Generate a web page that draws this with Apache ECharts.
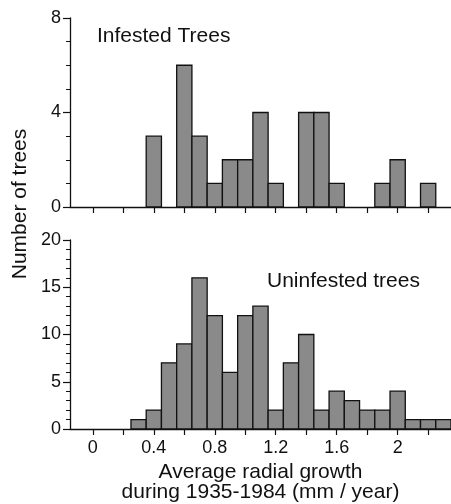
<!DOCTYPE html>
<html>
<head>
<meta charset="utf-8">
<script src="https://cdn.jsdelivr.net/npm/echarts@6/dist/echarts.min.js"></script>
<style>
    html, body { margin: 0; padding: 0; background: #fff; }
    #chart { width: 451px; height: 504px; }
</style>
</head>
<body>
<div id="chart"></div>
<script>
// bin centres (mm / year), each bin is 0.1 wide
let binCenters = [0.3, 0.4, 0.5, 0.6, 0.7, 0.8, 0.9, 1.0, 1.1, 1.2, 1.3, 1.4, 1.5, 1.6, 1.7, 1.8, 1.9, 2.0, 2.1, 2.2, 2.3];
let infested   = [0, 3, 0, 6, 3, 1, 2, 2, 4, 1, 0, 4, 4, 1, 0, 0, 1, 2, 0, 1, 0];
let uninfested = [1, 2, 7, 9, 16, 12, 6, 12, 13, 2, 7, 10, 2, 4, 3, 2, 2, 4, 1, 1, 1];
let binWidth = 0.1;

let xTicks = [0, 0.2, 0.4, 0.6, 0.8, 1.0, 1.2, 1.4, 1.6, 1.8, 2.0, 2.2];
let xLabels = [0, 0.4, 0.8, 1.2, 1.6, 2.0];

let font = '"Liberation Sans", Arial, Helvetica, sans-serif';

function histData(counts) {
    return binCenters.map((c, i) => [c, counts[i]]);
}

function renderBar(params, api) {
    let x = api.value(0);
    let y = api.value(1);
    if (!y) return null;
    let p0 = api.coord([x - binWidth / 2, y]);
    let p1 = api.coord([x + binWidth / 2, 0]);
    return {
        type: 'rect',
        shape: { x: p0[0], y: p0[1], width: p1[0] - p0[0], height: p1[1] - p0[1] },
        style: { fill: '#8a8a8a', stroke: '#111', lineWidth: 1.3 }
    };
}

function xAxis(idx, showLabel) {
    let ax = {
        type: 'value',
        gridIndex: idx,
        min: -0.15,
        max: 2.35,
        axisLine: { show: true, onZero: false, lineStyle: { color: '#111', width: 1.3 } },
        axisTick: { show: true, customValues: xTicks, length: 6, lineStyle: { color: '#111', width: 1.2 } },
        axisLabel: {
            show: showLabel,
            customValues: xLabels,
            formatter: v => String(v),
            color: '#111',
            fontSize: 18,
            fontFamily: font,
            margin: 10
        },
        splitLine: { show: false }
    };
    if (showLabel) {
        ax.name = 'Average radial growth\nduring 1935-1984 (mm / year)';
        ax.nameLocation = 'middle';
        ax.nameGap = 33;
        ax.nameTextStyle = { color: '#111', fontSize: 21, fontFamily: font, lineHeight: 20 };
    }
    return ax;
}

function yAxis(idx, max, interval, minorSplit) {
    return {
        type: 'value',
        gridIndex: idx,
        min: 0,
        max: max,
        interval: interval,
        axisLine: { show: true, onZero: false, lineStyle: { color: '#111', width: 1.3 } },
        axisTick: { show: true, length: 7, lineStyle: { color: '#111', width: 1.2 } },
        minorTick: { show: true, splitNumber: minorSplit, length: 4, lineStyle: { color: '#111', width: 1 } },
        axisLabel: { color: '#111', fontSize: 18, fontFamily: font, margin: 9 },
        splitLine: { show: false },
        minorSplitLine: { show: false }
    };
}

let chart = echarts.init(document.getElementById('chart'), null, { renderer: 'canvas' });
let option = {
    animation: false,
    grid: [
        { left: 70, right: 0, top: 18, height: 189 },
        { left: 70, right: 0, top: 240, height: 189 }
    ],
    xAxis: [xAxis(0, false), xAxis(1, true)],
    yAxis: [yAxis(0, 8, 4, 4), yAxis(1, 20, 5, 5)],
    graphic: [
        {
            type: 'text', left: 97, top: 26,
            style: { text: 'Infested Trees', fill: '#111', font: '21px ' + font }
        },
        {
            type: 'text', left: 267, top: 271,
            style: { text: 'Uninfested trees', fill: '#111', font: '21px ' + font }
        },
        {
            type: 'text', x: 20, y: 204, rotation: Math.PI / 2,
            style: { text: 'Number of trees', fill: '#111', font: '21px ' + font, align: 'center', verticalAlign: 'middle' }
        }
    ],
    series: [
        {
            name: 'Infested Trees',
            type: 'custom',
            xAxisIndex: 0,
            yAxisIndex: 0,
            renderItem: renderBar,
            data: histData(infested)
        },
        {
            name: 'Uninfested trees',
            type: 'custom',
            xAxisIndex: 1,
            yAxisIndex: 1,
            renderItem: renderBar,
            data: histData(uninfested)
        }
    ]
};
chart.setOption(option);
</script>
</body>
</html>
